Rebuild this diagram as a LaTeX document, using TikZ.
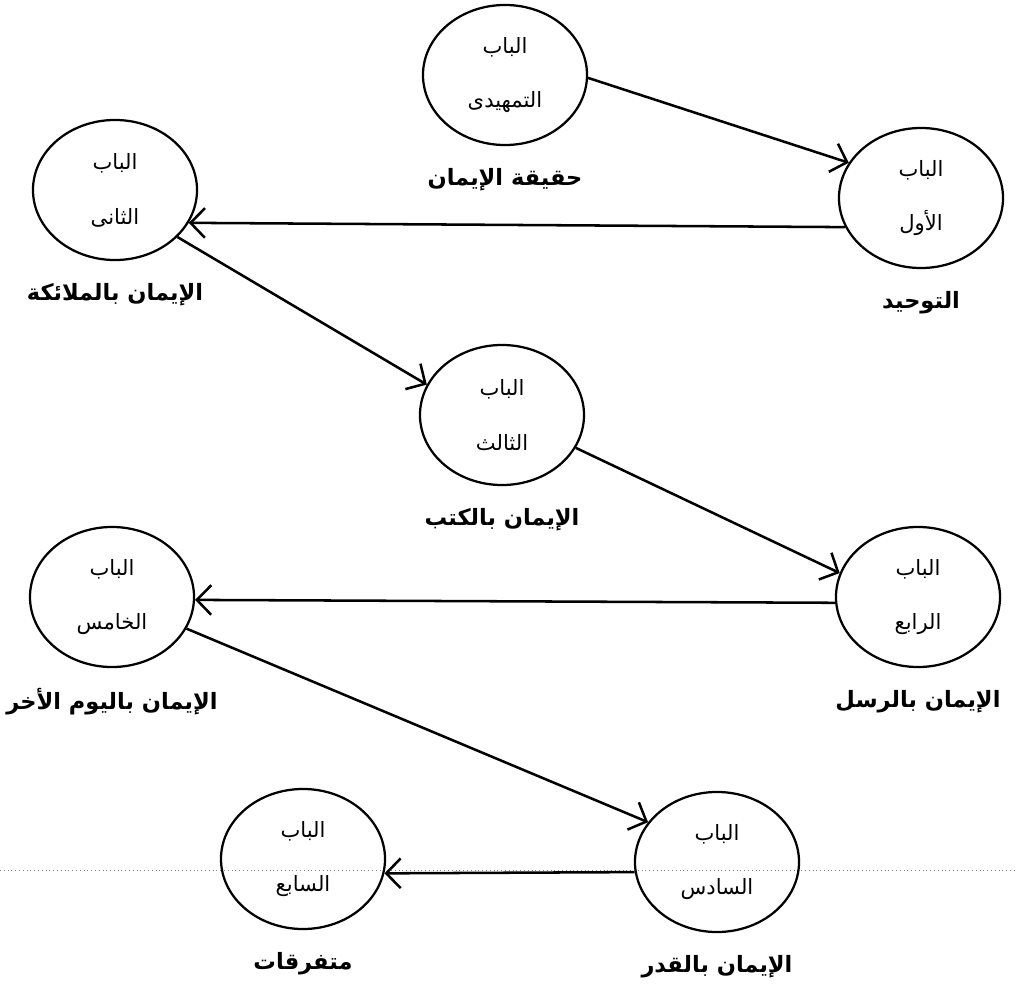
\documentclass[tikz,border=0pt]{standalone}
\usepackage{fontspec}
\usetikzlibrary{arrows.meta,shapes.geometric}
\newfontfamily\arabicfont[Script=Arabic]{DejaVu Sans}
\TeXXeTstate=1
\newcommand{\artxt}[1]{{\arabicfont\beginR #1\endR}}

\begin{document}
\begin{tikzpicture}[->,>={Straight Barb[length=3.6mm,width=7.4mm]},x=0.025cm,y=-0.025cm,node distance=2.625cm,line width=1.8pt,
  bab/.style={ellipse,draw,line width=1.6pt,minimum width=4.1cm,minimum height=3.5cm,inner sep=0pt,align=center,font=\fontsize{15}{39}\selectfont},
  chaptitle/.style={font=\bfseries\fontsize{16}{18}\selectfont}]
  \useasboundingbox (0,0) rectangle (1015,992);
  \draw[-,gray,dotted,line width=0.7pt] (0,870) -- (1015,870);

  \node[bab] (tamhidi) at (505,75)  {\artxt{الباب}\\\artxt{التمهيدى}};
  \node[bab] (awwal)   at (921,198) {\artxt{الباب}\\\artxt{الأول}};
  \node[bab] (thani)   at (115,190) {\artxt{الباب}\\\artxt{الثانى}};
  \node[bab] (thalith) at (502,415) {\artxt{الباب}\\\artxt{الثالث}};
  \node[bab] (rabi)    at (918,597) {\artxt{الباب}\\\artxt{الرابع}};
  \node[bab] (khamis)  at (112,597) {\artxt{الباب}\\\artxt{الخامس}};
  \node[bab] (sadis)   at (717,862) {\artxt{الباب}\\\artxt{السادس}};
  \node[bab] (sabi)    at (303,859) {\artxt{الباب}\\\artxt{السابع}};

  \node[chaptitle] (t-tamhidi) [below of=tamhidi] {\artxt{حقيقة الإيمان}};
  \node[chaptitle] (t-awwal)   [below of=awwal]   {\artxt{التوحيد}};
  \node[chaptitle] (t-thani)   [below of=thani]   {\artxt{الإيمان بالملائكة}};
  \node[chaptitle] (t-thalith) [below of=thalith] {\artxt{الإيمان بالكتب}};
  \node[chaptitle] (t-rabi)    [below of=rabi]    {\artxt{الإيمان بالرسل}};
  \node[chaptitle] (t-khamis)  [below of=khamis]  {\artxt{الإيمان باليوم الأخر}};
  \node[chaptitle] (t-sadis)   [below of=sadis]   {\artxt{الإيمان بالقدر}};
  \node[chaptitle] (t-sabi)    [below of=sabi]    {\artxt{متفرقات}};

  \path (tamhidi.-2) edge (awwal.154)
        (awwal.201)  edge (thani.-24)
        (thani.-37)  edge (thalith.158)
        (thalith.-24) edge (rabi.163)
        (rabi.184)   edge (khamis.-2)
        (khamis.-23) edge (sadis.150)
        (sadis.187)  edge (sabi.-10);
\end{tikzpicture}
\end{document}
